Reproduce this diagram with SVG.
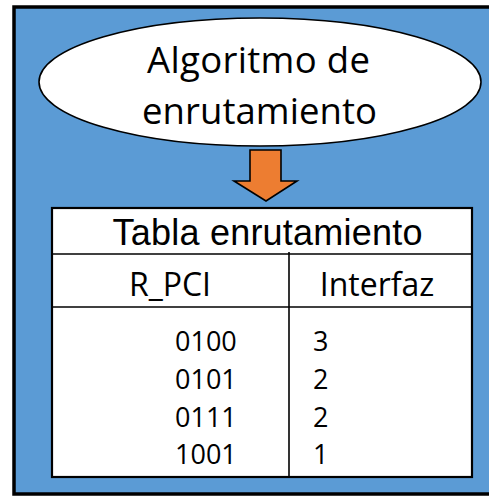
<svg xmlns="http://www.w3.org/2000/svg" width="489" height="496" viewBox="0 0 489 496">
  <style>
    .os { font-family: "Open Sans", "Liberation Sans", sans-serif; fill: #000; }
    .ar { font-family: "Liberation Sans", Arial, sans-serif; fill: #000; }
    .line { stroke: #000; stroke-width: 1.6; fill: none; }
  </style>
  <rect id="background" x="14" y="7" width="478" height="487" fill="#5B9BD5" stroke="#000" stroke-width="3.5"/>
  <g id="algoritmo">
    <ellipse cx="260" cy="82" rx="221" ry="64" fill="#fff" stroke="#000" stroke-width="1.6"/>
    <text class="os" x="258.5" y="73" font-size="36.5" text-anchor="middle" textLength="223" lengthAdjust="spacing">Algoritmo de</text>
    <text class="os" x="259.5" y="124" font-size="36.5" text-anchor="middle" textLength="235" lengthAdjust="spacing">enrutamiento</text>
  </g>
  <g id="connectors">
    <polygon points="250,150 281,150 281,181 297,181 266,201 234,181 250,181" fill="#ED7D31" stroke="#000" stroke-width="1.6" stroke-linejoin="miter"/>
  </g>
  <g id="tabla">
    <rect x="52" y="208" width="420" height="269" fill="#fff" stroke="#000" stroke-width="2.2"/>
    <line class="line" x1="51" y1="254" x2="472" y2="254" stroke-width="2"/>
    <line class="line" x1="52" y1="307" x2="472" y2="307" stroke-width="2"/>
    <line class="line" x1="289" y1="252" x2="289" y2="477"/>
    <text class="ar" x="267.5" y="245" font-size="36" text-anchor="middle" textLength="310" lengthAdjust="spacing">Tabla enrutamiento</text>
    <text class="os" x="170" y="296" font-size="32" text-anchor="middle">R_PCI</text>
    <text class="os" x="377" y="296" font-size="32" text-anchor="middle">Interfaz</text>
    <g class="os" font-size="27">
      <text x="175" y="351">0100</text>
      <text x="175" y="389">0101</text>
      <text x="175" y="427">0111</text>
      <text x="175" y="464">1001</text>
      <text x="313" y="351">3</text>
      <text x="313" y="389">2</text>
      <text x="313" y="427">2</text>
      <text x="313" y="464">1</text>
    </g>
  </g>
</svg>
